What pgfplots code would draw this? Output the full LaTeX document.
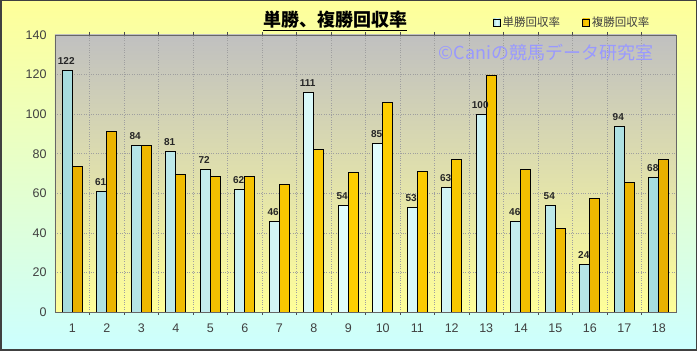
\documentclass[border=0pt]{standalone}
\usepackage{pgfplots}
\pgfplotsset{compat=1.18}
\usepackage{fontspec}
\setmainfont{Liberation Sans}
\newfontfamily\jp{Noto Sans CJK JP}
\definecolor{outtop}{HTML}{FFFF99}
\definecolor{outbot}{HTML}{CCFFFF}
\definecolor{pltop}{HTML}{C0C0C0}
\definecolor{plbot}{HTML}{FFFF99}
\definecolor{bluebar}{HTML}{E4FFFF}
\definecolor{blueedge}{HTML}{A6DCDE}
\definecolor{goldbar}{HTML}{FFD000}
\definecolor{goldedge}{HTML}{E8B000}
\definecolor{wm}{HTML}{9999FF}
\definecolor{ticktxt}{HTML}{404040}
\begin{document}
\begin{tikzpicture}[x=1pt,y=1pt]
\shade[top color=outtop, bottom color=outbot] (0,0) rectangle (697,351);
\draw[line width=1.5pt, black!75] (0.75,0.75) rectangle (696.25,350.25);
\begin{axis}[
  at={(55pt,39pt)}, anchor=south west,
  scale only axis, width=621pt, height=277pt,
  ybar=0pt, bar width=10pt,
  xmin=0.5, xmax=18.5, ymin=0, ymax=140,
  xtick={1,...,18}, ytick={0,20,...,140},
  minor xtick={1.5,2.5,...,17.5},
  major x tick style={draw=none},
  minor x tick style={black!70, line width=0.6pt},
  minor tick length=3pt,
  ytick style={draw=none},
  ymajorgrids, xminorgrids,
  major grid style={dotted, gray!75, line width=0.6pt},
  minor grid style={dotted, gray!75, line width=0.6pt},
  axis line style={black!60, line width=0.8pt},
  axis background/.style={shade, top color=pltop, bottom color=plbot},
  tick label style={font=\fontsize{12.5}{13}\selectfont, text=ticktxt},
  /pgf/number format/assume math mode=true,
  xticklabel style={yshift=-4pt},
  yticklabel style={xshift=-5pt},
  legend style={draw=none, fill=none, at={(0.70,1.01)}, anchor=south west,
    legend columns=2, font=\jp\fontsize{11.5}{12}\selectfont, text=ticktxt,
    /tikz/every even column/.append style={column sep=20pt}},
  legend image code/.code={\draw[#1, line width=0.8pt] (0pt,-3.5pt) rectangle (7pt,3.5pt);},
  nodes near coords style={font=\bfseries\fontsize{10}{10}\selectfont, text=black!85, yshift=2pt, xshift=-1pt},
]
\addplot[draw=black, line width=0.9pt, shading=axis, left color=blueedge, right color=blueedge, middle color=bluebar,
  nodes near coords, point meta=explicit symbolic]
 table[meta=l] {
x y l
1 122 122
2 61 61
3 84 84
4 81 81
5 72 72
6 62 62
7 46 46
8 111 111
9 54 54
10 85 85
11 53 53
12 63 63
13 100 100
14 46 46
15 54 54
16 24 24
17 94 94
18 68 68
};
\addlegendentry{単勝回収率}
\addplot[draw=black, line width=0.9pt, shading=axis, left color=goldedge, right color=goldedge, middle color=goldbar]
 coordinates {(1,73.5) (2,91.2) (3,84) (4,69.3) (5,68.3) (6,68.3) (7,64.5) (8,82.1) (9,70.5) (10,105.8) (11,71) (12,77.1) (13,119.8) (14,72.2) (15,42) (16,57.2) (17,65.5) (18,77.3)};
\addlegendentry{複勝回収率}
\end{axis}
\node[font=\jp\bfseries\fontsize{18}{19}\selectfont] at (335,330) {\underline{単勝、複勝回収率}};
\node[font=\jp\fontsize{18}{19}\selectfont, text=wm] at (546,298) {©Caniの競馬データ研究室};
\end{tikzpicture}
\end{document}
